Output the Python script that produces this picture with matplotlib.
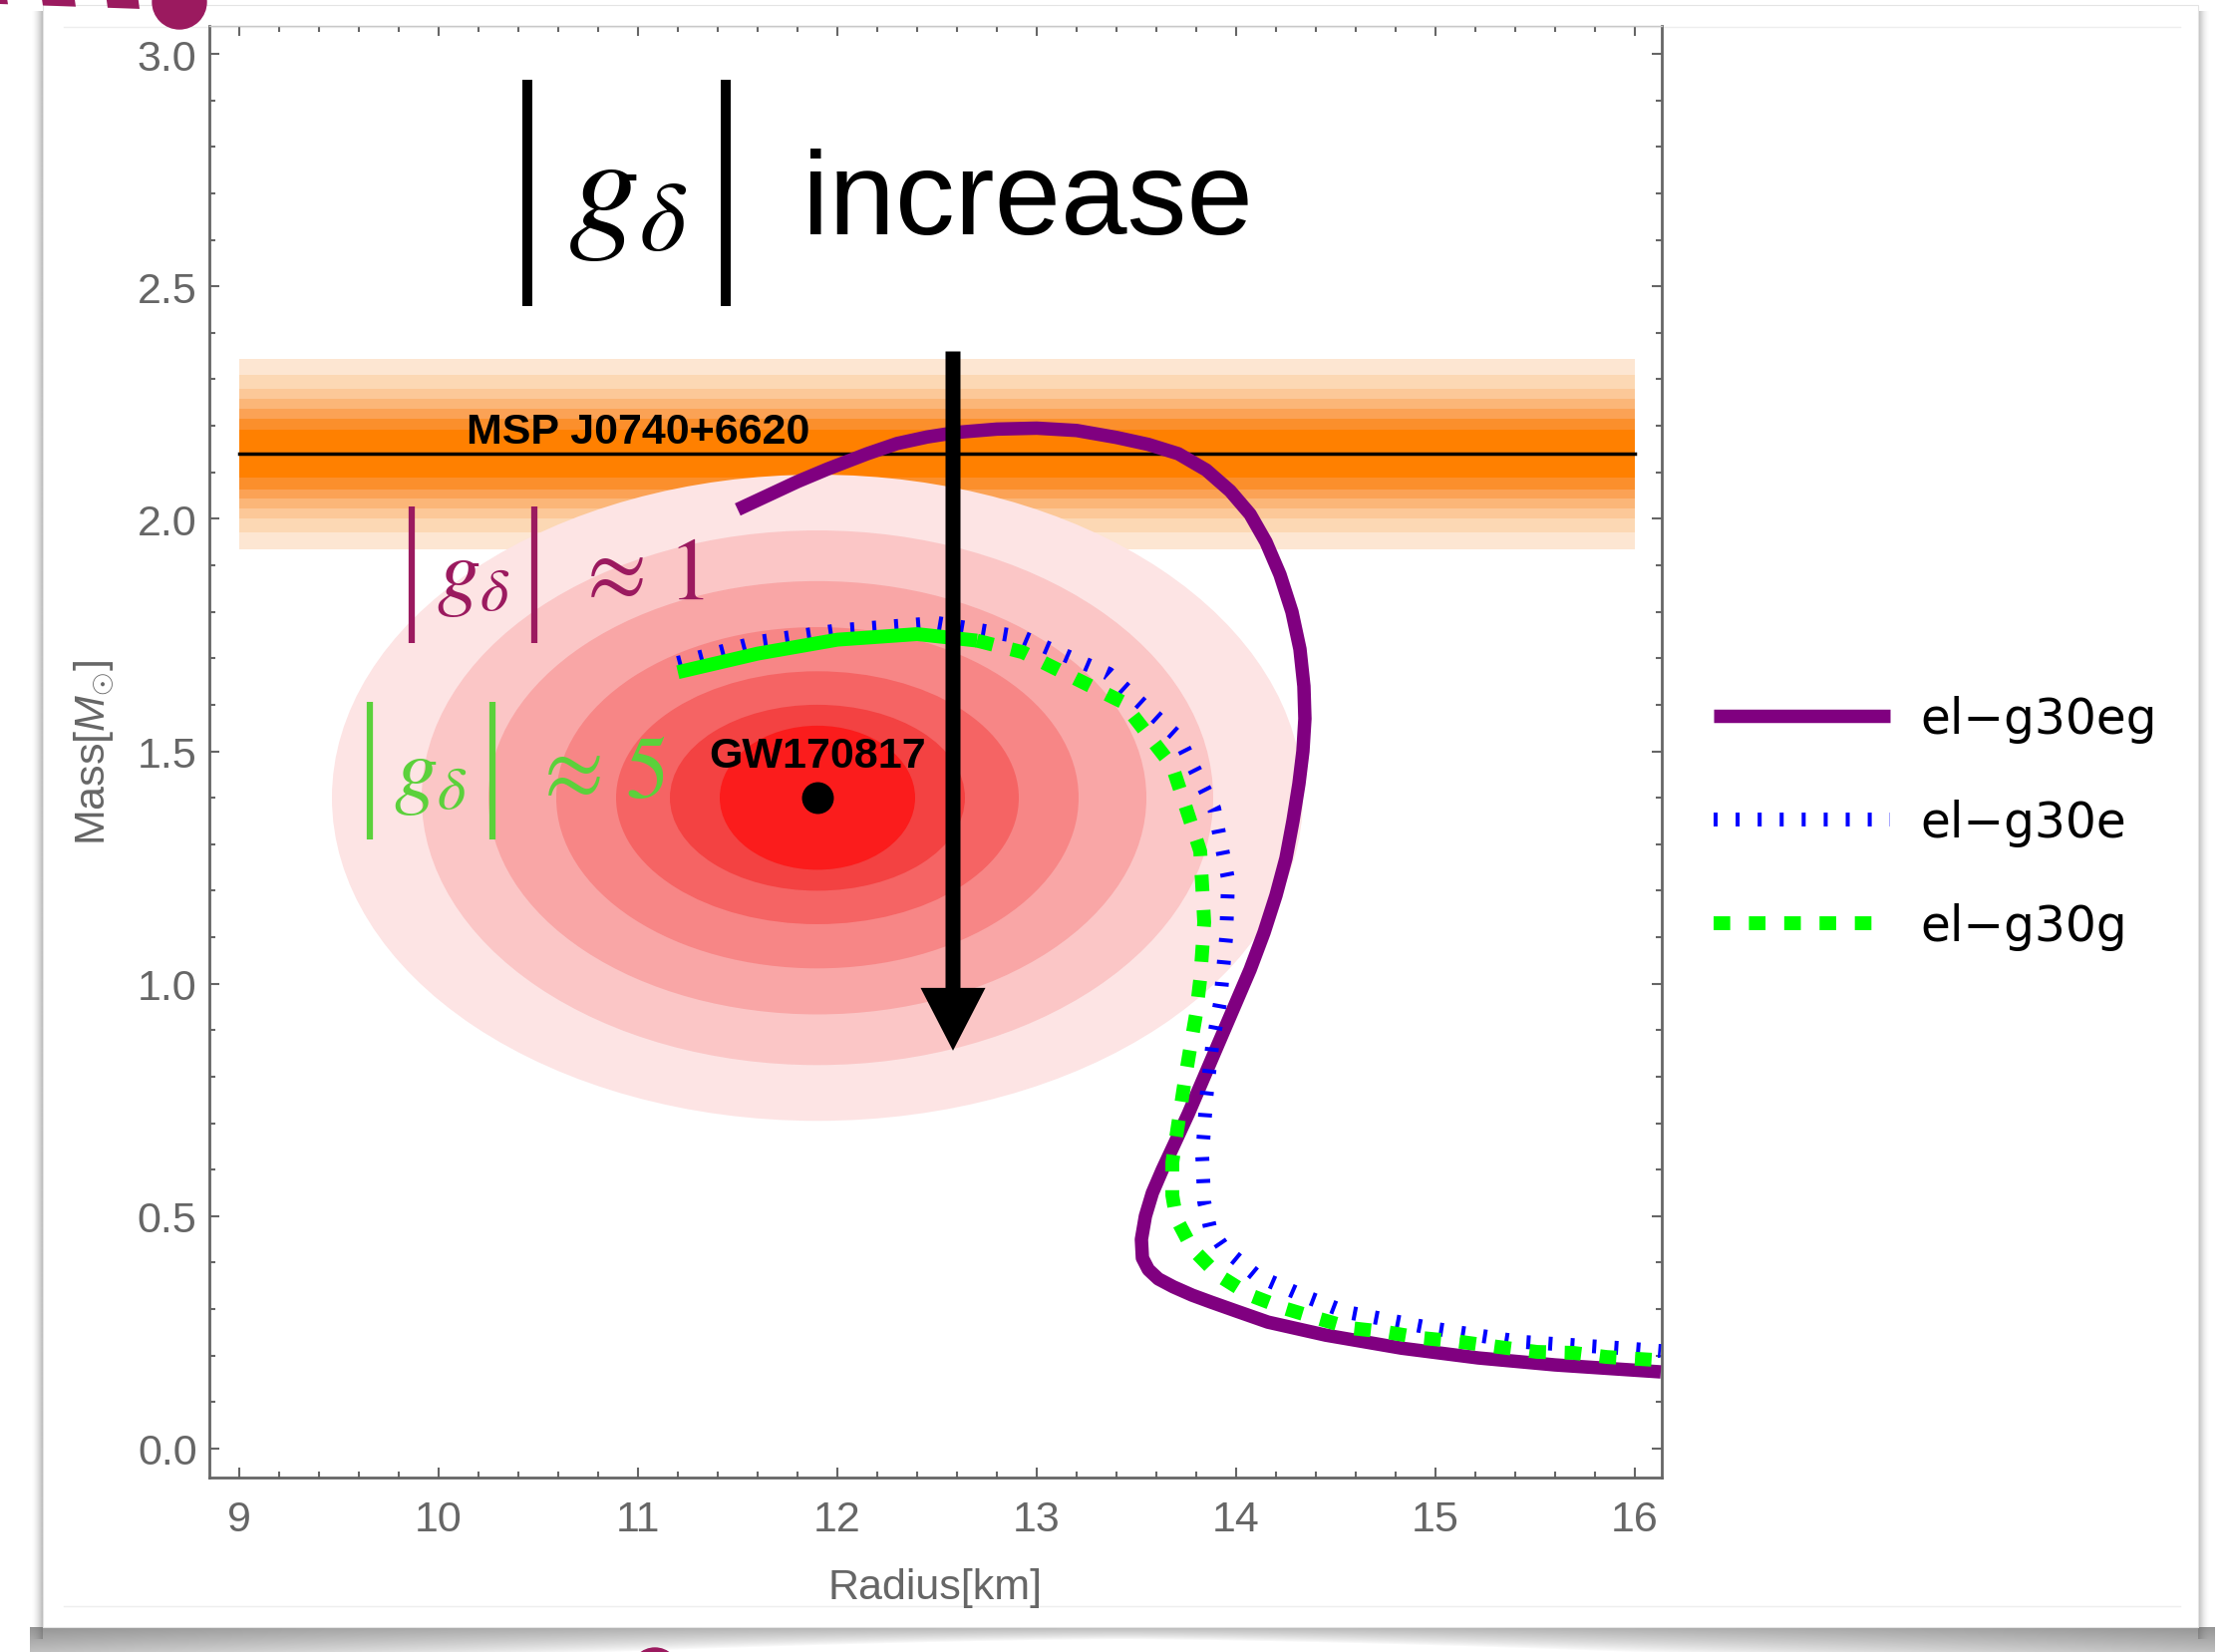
import numpy as np
import matplotlib.pyplot as plt
from matplotlib.patches import Ellipse, Rectangle, Circle, Polygon
from matplotlib.ticker import MultipleLocator, FormatStrFormatter

plt.rcParams['font.family'] = ['Liberation Sans', 'DejaVu Sans']
plt.rcParams['mathtext.fontset'] = 'custom'
plt.rcParams['mathtext.rm'] = 'Liberation Sans'
plt.rcParams['mathtext.it'] = 'Liberation Sans:italic'
plt.rcParams['mathtext.bf'] = 'Liberation Sans:bold'

W, H, DPI = 2234, 1658, 100

# mass-radius relations (radius in km, mass in solar masses)
r_eg = [11.5, 11.65, 11.8, 11.95, 12.15, 12.3, 12.45, 12.6, 12.8, 13.0, 13.2, 13.4,
        13.56, 13.71, 13.85, 13.97, 14.07, 14.15, 14.22, 14.28, 14.32, 14.34, 14.345,
        14.335, 14.315, 14.285, 14.25, 14.2, 14.14, 14.07, 13.99, 13.91, 13.83, 13.76,
        13.69, 13.63, 13.58, 13.545, 13.525, 13.53, 13.56, 13.61, 13.685, 13.78, 13.875,
        14.0, 14.16, 14.45, 14.83, 15.215, 15.6, 16.13]
m_eg = [2.02, 2.05, 2.08, 2.107, 2.14, 2.162, 2.176, 2.186, 2.193, 2.195, 2.19, 2.175,
        2.16, 2.14, 2.105, 2.06, 2.01, 1.95, 1.88, 1.80, 1.72, 1.64, 1.57,
        1.50, 1.43, 1.35, 1.27, 1.19, 1.11, 1.03, 0.95, 0.87, 0.79, 0.72,
        0.655, 0.60, 0.55, 0.50, 0.45, 0.41, 0.385, 0.365, 0.348, 0.33, 0.315,
        0.296, 0.272, 0.244, 0.216, 0.195, 0.18, 0.165]

r_e = [11.2, 11.6, 12.0, 12.5, 12.93, 13.36, 13.71, 13.89, 13.96, 13.95, 13.92, 13.88,
       13.85, 13.83, 13.84, 13.87, 13.94, 14.1, 14.33, 14.55, 14.98, 15.42, 15.94, 16.13]
m_e = [1.69, 1.735, 1.76, 1.776, 1.745, 1.667, 1.53, 1.377, 1.224, 1.10, 0.96, 0.866,
       0.753, 0.63, 0.53, 0.474, 0.43, 0.373, 0.33, 0.294, 0.259, 0.23, 0.216, 0.21]

r_g = [11.2, 11.6, 12.0, 12.4, 12.7, 12.93, 13.43, 13.68, 13.82, 13.84, 13.82, 13.8,
       13.77, 13.74, 13.71, 13.68, 13.68, 13.7, 13.78, 13.91, 14.07, 14.24, 14.41,
       14.58, 14.75, 14.93, 15.12, 15.31, 15.51, 15.69, 15.86, 16.13]
m_g = [1.67, 1.71, 1.74, 1.752, 1.738, 1.713, 1.606, 1.468, 1.285, 1.132, 1.01, 0.937,
       0.862, 0.785, 0.70, 0.616, 0.545, 0.495, 0.43, 0.373, 0.33, 0.302, 0.28,
       0.259, 0.251, 0.238, 0.23, 0.219, 0.208, 0.206, 0.197, 0.19]
g_solid = 5  # the densely sampled top arc of el-g30g renders as a solid stroke

labels = ['el\u2212g30eg', 'el\u2212g30e', 'el\u2212g30g']

# GW170817 region: nested ellipses, outer to inner
gw_center = (11.9, 1.4)
gw_half_r = [2.435, 1.985, 1.65, 1.31, 1.01, 0.74, 0.49]
gw_half_m = [0.695, 0.575, 0.466, 0.367, 0.272, 0.2, 0.155]
gw_colors = ['#fde4e4', '#fbc6c6', '#f9a6a6', '#f78686', '#f56464', '#f34242', '#fb1c1c']

# MSP J0740+6620 mass band, outer to inner
msp_mass = 2.14
msp_half = [0.205, 0.17, 0.14, 0.118, 0.096, 0.076, 0.052]
msp_colors = ['#fde6d2', '#fcd8b4', '#fcc898', '#fbb678', '#fba255', '#fb8f2c', '#ff8000']
msp_r = [9.0, 16.0]

xticks = [9, 10, 11, 12, 13, 14, 15, 16]
yticks = [0.0, 0.5, 1.0, 1.5, 2.0, 2.5, 3.0]

fig = plt.figure(figsize=(W / DPI, H / DPI), dpi=DPI)
fig.patch.set_facecolor('white')

# slide card behind the plot (pixel coordinates)
bg = fig.add_axes([0, 0, 1, 1], zorder=-10)
bg.axis('off')


def shade(alpha, extent):
    rgba = np.zeros(alpha.shape + (4,))
    rgba[..., :3] = 0.35
    rgba[..., 3] = alpha
    bg.imshow(rgba, extent=extent, aspect='auto', interpolation='bilinear', zorder=1)


xs = np.arange(30, 2222)
u = (xs - 30) / (2222 - 30)
edge = np.abs(2 * u - 1) ** 1.5
depth = 12 + 40 * edge
dy = np.arange(0, 26)[:, None]
shade((0.42 + 0.22 * edge[None, :]) * np.clip(1 - dy / depth[None, :], 0, 1) ** 0.8,
      (30, 2222, 1659, 1633))
ramp = np.linspace(0, 1, 13)
shade(np.tile(0.4 * ramp ** 2, (50, 1)), (30, 43, 1645, 12))
shade(np.tile(0.4 * ramp[::-1] ** 2, (50, 1)), (2205, 2218, 1645, 12))

bg.add_patch(Rectangle((43, 6), 2205 - 43, 1633 - 6, fc='white', ec='#e4e4e4', lw=0.8, zorder=2))
bg.plot([64, 2187], [28, 28], color='#eeeeee', lw=1, zorder=3)
bg.plot([64, 2187], [1612, 1612], color='#eeeeee', lw=1, zorder=3)

# slide connector: dashed stroke ending in a dot, plus a second dot below
mag = '#9b1a5f'
for x0, x1 in [(-30, 8), (43, 76), (108, 140)]:
    b0, b1 = 5 + 0.035 * x0, 5 + 0.035 * x1
    bg.add_patch(Polygon([(x0 - 4, -20), (x1 - 4, -20), (x1, b1), (x0, b0)],
                         closed=True, fc=mag, ec='none', zorder=3))
bg.add_patch(Circle((180, 3), 27, color=mag, zorder=4))
bg.add_patch(Circle((657, 1678), 24, color=mag, zorder=4))
bg.set_xlim(0, W)
bg.set_ylim(H, 0)

# main mass-radius panel
ax = fig.add_axes([210 / W, 1 - 1483 / H, (1667 - 210) / W, (1483 - 27) / H])
ax.set_facecolor('none')

for h, c in zip(msp_half, msp_colors):
    ax.fill_between(msp_r, msp_mass - h, msp_mass + h, color=c, lw=0, zorder=1)

for a, b, c in zip(gw_half_r, gw_half_m, gw_colors):
    ax.add_patch(Ellipse(gw_center, 2 * a, 2 * b, fc=c, ec='none', zorder=2))

ax.plot(msp_r, [msp_mass, msp_mass], color='black', lw=2.5, zorder=3)
ax.text(11.0, 2.164, 'MSP J0740+6620', fontsize=31, fontweight='bold',
        ha='center', va='baseline', zorder=4)
ax.plot(*gw_center, 'o', color='black', ms=22, zorder=4)
ax.text(11.9, 1.467, 'GW170817', fontsize=31, fontweight='bold',
        ha='center', va='baseline', zorder=4)

l1, = ax.plot(r_eg, m_eg, color='#800080', lw=9.7, solid_capstyle='butt',
              solid_joinstyle='round', zorder=5)
l2, = ax.plot(r_e, m_e, color='#0000ff', lw=10, dashes=(0.29, 1.3),
              dash_capstyle='butt', zorder=6)
ax.plot(r_g[:g_solid], m_g[:g_solid], color='#00ff00', lw=10, solid_capstyle='butt', zorder=7)
l3, = ax.plot(r_g[g_solid - 1:], m_g[g_solid - 1:], color='#00ff00', lw=10,
              dashes=(1.2, 1.35), dash_capstyle='butt', zorder=7)

ax.arrow(12.58, 2.36, 0, 0.856 - 2.36, width=0.075, head_width=0.325,
         head_length=0.135, length_includes_head=True, fc='black', ec='none', zorder=9)

# |g_delta| labels
ax.plot([10.445, 10.445], [2.944, 2.457], color='black', lw=7.2, solid_capstyle='butt', zorder=8)
ax.plot([11.44, 11.44], [2.944, 2.457], color='black', lw=7.2, solid_capstyle='butt', zorder=8)
ax.text(10.95, 2.618, r'$g_{\delta}$', fontsize=103, math_fontfamily='stix',
        ha='center', va='baseline', zorder=8)
ax.text(11.825, 2.614, 'increase', fontsize=86, ha='left', va='baseline', zorder=8)

for (xl, xr, y0, y1, xc, yb, xa, txt, col) in [
        (9.865, 10.48, 2.027, 1.732, 10.175, 1.829, 10.745, '\u2248 1', mag),
        (9.655, 10.27, 1.606, 1.31, 9.96, 1.4025, 10.53, '\u2248 5', '#5bd13b')]:
    ax.plot([xl, xl], [y0, y1], color=col, lw=4.5, solid_capstyle='butt', zorder=8)
    ax.plot([xr, xr], [y0, y1], color=col, lw=4.5, solid_capstyle='butt', zorder=8)
    ax.text(xc, yb, r'$g_{\delta}$', fontsize=63, math_fontfamily='stix', color=col,
            ha='center', va='baseline', zorder=8)
    ax.text(xa, yb, txt, fontsize=63, family='STIXGeneral', color=col,
            ha='left', va='baseline', zorder=8)

ax.set_xlim(8.85, 16.135)
ax.set_ylim(-0.0622, 3.0602)
ax.set_xticks(xticks)
ax.set_yticks(yticks)
ax.xaxis.set_minor_locator(MultipleLocator(0.2))
ax.yaxis.set_minor_locator(MultipleLocator(0.1))
ax.yaxis.set_major_formatter(FormatStrFormatter('%.1f'))
gray = '#666666'
for s in ax.spines.values():
    s.set_color(gray)
    s.set_linewidth(2)
ax.spines['top'].set_color('#c8c8c8')
ax.spines['top'].set_linewidth(1)
ax.tick_params(which='both', direction='in', top=True, right=True, color=gray, width=1.5,
               labelsize=31, labelcolor=gray)
ax.tick_params(which='major', length=7)
ax.tick_params(which='minor', length=4.5)
ax.tick_params(axis='x', pad=16)
ax.tick_params(axis='y', pad=9)

ax.set_xlabel('Radius[km]', fontsize=31, color=gray)
ax.xaxis.label.set_va('center')
ax.xaxis.set_label_coords(0.5, -0.0755)
ax.set_ylabel(r'Mass[$M_{\odot}$]', fontsize=31, color=gray)
ax.yaxis.label.set_va('center')
ax.yaxis.set_label_coords(-0.079, 0.5)

leg = ax.legend([l1, l2, l3], labels, loc='center left',
                bbox_to_anchor=(1719 / W, 1 - 826 / H), bbox_transform=fig.transFigure,
                frameon=False, prop={'family': 'DejaVu Sans', 'size': 35},
                handlelength=3.64, handletextpad=0.62, labelspacing=1.16,
                borderpad=0, borderaxespad=0)

fig.savefig('out.png', dpi=DPI)
